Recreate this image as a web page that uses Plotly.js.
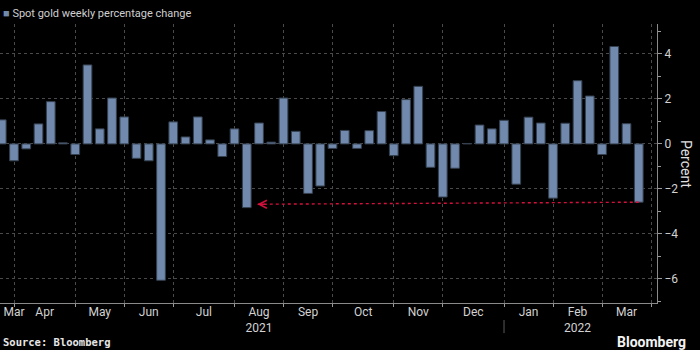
<!DOCTYPE html>
<html>
<head>
<meta charset="utf-8">
<script src="https://cdn.plot.ly/plotly-3.0.1.min.js"></script>
<style>html,body{margin:0;padding:0;background:#000;}#chart{width:700px;height:350px;}</style>
</head>
<body>
<div id="chart"></div>
<script>
// Week-ending dates (Fridays)
const weekDates = [
  '2021-03-19','2021-03-26','2021-04-02','2021-04-09','2021-04-16','2021-04-23','2021-04-30',
  '2021-05-07','2021-05-14','2021-05-21','2021-05-28','2021-06-04','2021-06-11','2021-06-18',
  '2021-06-25','2021-07-02','2021-07-09','2021-07-16','2021-07-23','2021-07-30','2021-08-06',
  '2021-08-13','2021-08-20','2021-08-27','2021-09-03','2021-09-10','2021-09-17','2021-09-24',
  '2021-10-01','2021-10-08','2021-10-15','2021-10-22','2021-10-29','2021-11-05','2021-11-12',
  '2021-11-19','2021-11-26','2021-12-03','2021-12-10','2021-12-17','2021-12-24','2021-12-31',
  '2022-01-07','2022-01-14','2022-01-21','2022-01-28','2022-02-04','2022-02-11','2022-02-18',
  '2022-02-25','2022-03-04','2022-03-11','2022-03-18'
];
// Spot gold weekly percentage change
const weeklyChange = [
  1.07,-0.75,-0.22,0.89,1.88,0.05,-0.47,
  3.51,0.67,2.04,1.20,-0.64,-0.75,-6.06,
  0.98,0.31,1.20,0.18,-0.56,0.67,-2.83,
  0.93,0.08,2.04,0.56,-2.20,-1.87,-0.20,
  0.60,-0.20,0.59,1.44,-0.52,1.97,2.56,
  -1.04,-2.36,-1.08,0.02,0.84,0.67,1.05,
  -1.79,1.19,0.93,-2.41,0.92,2.81,2.13,
  -0.47,4.33,0.90,-2.59
];
// Month boundary ticks (last week of each month)
const monthTicks = ['2021-03-26','2021-04-30','2021-05-28','2021-06-25','2021-07-30','2021-08-27',
  '2021-09-24','2021-10-29','2021-11-26','2021-12-31','2022-01-28','2022-02-25','2022-03-25'];
const monthLabels = ['Mar','Apr','May','Jun','Jul','Aug<br>2021','Sep','Oct','Nov','Dec','Jan','Feb<br>2022','Mar'];
const yearBoundary = '2021-12-31';
// Red arrow pointing back to the comparable August drop
const arrowFromIndex = 52;
const arrowTipDate = '2021-08-12';
const arrowTipValue = -2.68;

const toMs = d => new Date(d + 'T00:00:00Z').getTime();
const fmt = ms => new Date(ms).toISOString().replace('T',' ').slice(0,19);
const labelPos = monthTicks.map((t, i) => i === 0 ? t : fmt((toMs(monthTicks[i-1]) + toMs(t)) / 2));

const xRange = ['2021-03-18 00:00:00', '2022-03-28 10:00:00'];
const tickFont = {family: 'Roboto, "Open Sans", sans-serif', size: 12, color: '#d2d2d2'};

const traces = [
  {
    type: 'bar', x: weekDates, y: weeklyChange, name: 'Spot gold weekly percentage change',
    marker: {color: '#7189ad', line: {color: '#34404f', width: 1}},
    showlegend: false, hoverinfo: 'x+y'
  },
  {
    type: 'scatter', mode: 'lines', xaxis: 'x2', yaxis: 'y',
    x: [weekDates[arrowFromIndex], arrowTipDate],
    y: [weeklyChange[arrowFromIndex], arrowTipValue],
    line: {color: '#d4103c', width: 1.4, dash: 'dot'},
    showlegend: false, hoverinfo: 'skip'
  }
];

const layout = {
  width: 700, height: 350,
  margin: {l: 0, r: 43, t: 24, b: 47},
  paper_bgcolor: '#000', plot_bgcolor: '#000',
  bargap: 0.29,
  showlegend: false,
  xaxis: {
    type: 'date', range: xRange,
    tickmode: 'array', tickvals: monthTicks, ticktext: monthTicks.map(() => ''),
    ticks: 'outside', ticklen: 3, tickcolor: '#9a9a9a',
    showgrid: true, gridcolor: '#4a4a4a', griddash: 'dot', gridwidth: 1,
    showline: true, linecolor: '#8a8a8a', linewidth: 1,
    zeroline: false, fixedrange: true
  },
  xaxis2: {
    type: 'date', range: xRange, overlaying: 'x', anchor: 'y', side: 'bottom',
    tickmode: 'array', tickvals: labelPos, ticktext: monthLabels,
    ticks: '', showgrid: false, showline: false, zeroline: false,
    tickfont: tickFont, fixedrange: true
  },
  yaxis: {
    side: 'right', range: [-7.07, 5.33],
    tick0: 0, dtick: 2, ticks: 'outside', ticklen: 4, tickcolor: '#9a9a9a',
    minor: {dtick: 1, ticks: 'outside', ticklen: 3, tickcolor: '#9a9a9a', showgrid: false},
    showgrid: true, gridcolor: '#4a4a4a', griddash: 'dot', gridwidth: 1,
    showline: true, linecolor: '#8a8a8a', linewidth: 1,
    zeroline: false, tickfont: tickFont, fixedrange: true
  },
  shapes: [
    {type: 'line', xref: 'x', yref: 'paper', x0: yearBoundary, x1: yearBoundary,
     y0: -0.061, y1: -0.108, line: {color: '#5a5a5a', width: 1}}
  ],
  annotations: [
    {xref: 'paper', yref: 'paper', x: 0.002, y: 1.036, xanchor: 'left', yanchor: 'middle', showarrow: false,
     text: '<span style="color:#7189ad">■</span> Spot gold weekly percentage change',
     font: {family: 'Roboto, "Open Sans", sans-serif', size: 11, color: '#cfcfcf'}},
    {xref: 'paper', yref: 'paper', x: 1.045, y: 0.5, xanchor: 'center', yanchor: 'middle', showarrow: false,
     text: 'Percent', textangle: 90,
     font: {family: 'Roboto, "Open Sans", sans-serif', size: 14, color: '#e0e0e0'}},
    {xref: 'paper', yref: 'paper', x: 0.002, y: -0.14, xanchor: 'left', yanchor: 'middle', showarrow: false,
     text: '<b>Source: Bloomberg</b>',
     font: {family: '"DejaVu Sans Mono", monospace', size: 10.5, color: '#e6e6e6'}},
    {xref: 'paper', yref: 'paper', x: 1.047, y: -0.14, xanchor: 'right', yanchor: 'middle', showarrow: false,
     text: '<b>Bloomberg</b>',
     font: {family: 'Roboto, "Open Sans", sans-serif', size: 14, color: '#f2f2f2'}},
    {xref: 'x', yref: 'y', x: arrowTipDate, y: arrowTipValue, text: '', showarrow: true,
     axref: 'pixel', ayref: 'pixel', ax: 9, ay: 0,
     arrowhead: 5, arrowsize: 1.2, arrowwidth: 1.3, arrowcolor: '#d4103c'}
  ]
};

Plotly.newPlot('chart', traces, layout, {displayModeBar: false, staticPlot: true});
</script>
</body>
</html>
